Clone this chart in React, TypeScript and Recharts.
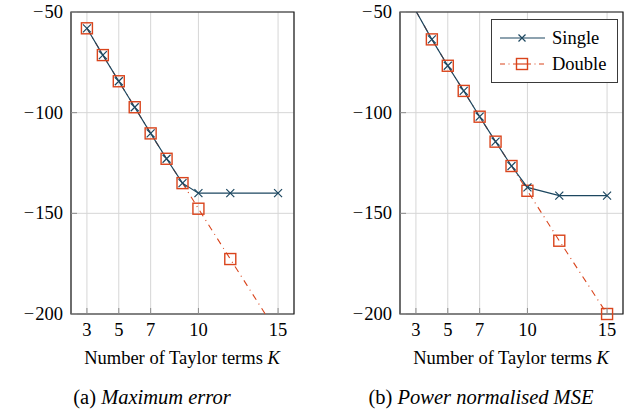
import { LineChart, Line, XAxis, YAxis, CartesianGrid, ReferenceArea, Legend } from 'recharts'

const kValues = [3, 4, 5, 6, 7, 8, 9, 10, 12, 15]
const maxErrSingle = [-58.1, -71.4, -84.4, -97.3, -110.3, -122.9, -135, -140, -140, -140]
const maxErrDouble = [-58.1, -71.4, -84.4, -97.3, -110.3, -122.9, -135, -147.7, -172.7, -210]
const mseSingle = [-49.5, -63.6, -76.7, -89.2, -102, -114.4, -126.5, -137.1, -141.2, -141.2]
const mseDouble = [-49.5, -63.6, -76.7, -89.2, -102, -114.4, -126.5, -138.8, -163.6, -200]
const xTicks = [3, 5, 7, 10, 15]
const yTicks = [-50, -100, -150, -200]
const xDomain = [2, 16]
const yDomain = [-200, -50]

const SINGLE = '#1c4760'
const DOUBLE = '#d9441c'
const DASH = '6.5 4.5 1 4.5'
const FONT = "'Liberation Serif'"
const TICK_FS = 18.5
const TICK_COLOR = '#8c8c8c'

const inRange = (v: number) => v >= yDomain[0] && v <= yDomain[1]

function buildRows(single: number[], double: number[]) {
  return kValues.map((k, i) => ({
    k,
    single: single[i],
    double: double[i],
    singleMark: inRange(single[i]) ? single[i] : null,
    doubleMark: inRange(double[i]) ? double[i] : null,
  }))
}

const maxErrRows = buildRows(maxErrSingle, maxErrDouble)
const mseRows = buildRows(mseSingle, mseDouble)

const CrossDot = (props: any) => {
  const { cx, cy, value } = props
  if (value == null || cx == null || cy == null) return <g key={props.key} />
  return (
    <path
      key={props.key}
      d={`M${cx - 4},${cy - 4}L${cx + 4},${cy + 4}M${cx + 4},${cy - 4}L${cx - 4},${cy + 4}`}
      stroke={SINGLE}
      strokeWidth={1.2}
      fill="none"
    />
  )
}

const SquareDot = (props: any) => {
  const { cx, cy, value } = props
  if (value == null || cx == null || cy == null) return <g key={props.key} />
  return (
    <rect key={props.key} x={cx - 5.5} y={cy - 5.5} width={11} height={11} stroke={DOUBLE} strokeWidth={1.4} fill="none" />
  )
}

const fmt = (v: number) => (v < 0 ? [String.fromCharCode(0x2212), String(-v)] : ['', String(v)])

const XTick = (props: any) => {
  const { x, y, payload, top } = props
  return (
    <g>
      <line x1={x} y1={y} x2={x} y2={top ? y + 6 : y - 6} stroke={TICK_COLOR} strokeWidth={1} />
      {!top && (
        <text x={x} y={y + 22} textAnchor="middle" style={{ fontFamily: FONT }} fontSize={TICK_FS} fill="#000">
          {payload.value}
        </text>
      )}
    </g>
  )
}

const YTick = (props: any) => {
  const { x, y, payload, right } = props
  const [sign, num] = fmt(payload.value)
  return (
    <g>
      <line x1={x} y1={y} x2={right ? x - 6 : x + 6} y2={y} stroke={TICK_COLOR} strokeWidth={1} />
      {!right && (
        <text x={x - 8} y={y + 6} textAnchor="end" style={{ fontFamily: FONT }} fontSize={TICK_FS} fill="#000">
          <tspan>{sign}</tspan>
          <tspan dx={1}>{num}</tspan>
        </text>
      )}
    </g>
  )
}

const LegendBox = () => (
  <div
    style={{
      border: '1px solid #3a3a3a',
      background: '#fff',
      padding: '5px 0 5px 8px',
      fontFamily: FONT,
      fontSize: TICK_FS,
      lineHeight: '26px',
    }}
  >
    <div style={{ display: 'flex', alignItems: 'center' }}>
      <svg width={50} height={20}>
        <line x1={0} y1={10} x2={45} y2={10} stroke={SINGLE} strokeWidth={1.2} />
        <path d="M18.5,6.5L25.5,13.5M25.5,6.5L18.5,13.5" stroke={SINGLE} strokeWidth={1.2} />
      </svg>
      <span style={{ marginLeft: 2 }}>Single</span>
    </div>
    <div style={{ display: 'flex', alignItems: 'center' }}>
      <svg width={50} height={20}>
        <line x1={0} y1={10} x2={45} y2={10} stroke={DOUBLE} strokeWidth={1.2} strokeDasharray="5 3.5 1 3.5" />
        <rect x={16.5} y={4.5} width={11} height={11} stroke={DOUBLE} strokeWidth={1.4} fill="#fff" />
        <line x1={16.5} y1={10} x2={27.5} y2={10} stroke={DOUBLE} strokeWidth={1.2} />
      </svg>
      <span style={{ marginLeft: 2 }}>Double</span>
    </div>
  </div>
)

type PanelProps = {
  rows: ReturnType<typeof buildRows>
  showLegend?: boolean
}

function Panel({ rows, showLegend }: PanelProps) {
  return (
    <LineChart width={300} height={340} data={rows} margin={{ top: 12, right: 6, bottom: 0, left: 0 }}>
      <CartesianGrid stroke="#d6d6d6" strokeWidth={1} />
      <XAxis
        dataKey="k"
        type="number"
        domain={xDomain}
        ticks={xTicks}
        interval={0}
        height={26}
        tickSize={0}
        tickMargin={0}
        tickLine={false}
        axisLine={false}
        tick={<XTick />}
      />
      <XAxis
        xAxisId="top"
        orientation="top"
        dataKey="k"
        type="number"
        domain={xDomain}
        ticks={xTicks}
        interval={0}
        height={0}
        tickSize={0}
        tickMargin={0}
        tickLine={false}
        axisLine={false}
        tick={(p: any) => <XTick {...p} top />}
      />
      <YAxis
        type="number"
        domain={yDomain}
        ticks={yTicks}
        interval={0}
        allowDataOverflow
        width={71}
        tickSize={0}
        tickMargin={0}
        tickLine={false}
        axisLine={false}
        tick={<YTick />}
      />
      <YAxis
        yAxisId="right"
        orientation="right"
        type="number"
        domain={yDomain}
        ticks={yTicks}
        interval={0}
        allowDataOverflow
        width={0}
        tickSize={0}
        tickMargin={0}
        tickLine={false}
        axisLine={false}
        tick={(p: any) => <YTick {...p} right />}
      />
      <YAxis yAxisId="m" hide type="number" domain={yDomain} />
      <Line
        dataKey="double"
        stroke={DOUBLE}
        strokeWidth={1.1}
        strokeDasharray={DASH}
        dot={false}
        activeDot={false}
        legendType="none"
        isAnimationActive={false}
      />
      <Line
        dataKey="single"
        stroke={SINGLE}
        strokeWidth={1.2}
        dot={false}
        activeDot={false}
        legendType="none"
        isAnimationActive={false}
      />
      <Line
        yAxisId="m"
        dataKey="doubleMark"
        stroke="none"
        dot={SquareDot}
        activeDot={false}
        legendType="none"
        isAnimationActive={false}
      />
      <Line
        yAxisId="m"
        dataKey="singleMark"
        stroke="none"
        dot={CrossDot}
        activeDot={false}
        legendType="none"
        isAnimationActive={false}
      />
      <ReferenceArea x1={xDomain[0]} x2={xDomain[1]} y1={yDomain[0]} y2={yDomain[1]} fill="none" stroke="#1a1a1a" strokeWidth={1.2} />
      {showLegend && (
        <Legend
          layout="vertical"
          align="center"
          verticalAlign="middle"
          content={<LegendBox />}
          wrapperStyle={{ left: 162, top: 19, width: 127 }}
        />
      )}
    </LineChart>
  )
}

const labelStyle: React.CSSProperties = {
  position: 'absolute',
  width: 300,
  textAlign: 'center',
  fontFamily: FONT,
  whiteSpace: 'nowrap',
}

export default function App() {
  return (
    <div style={{ position: 'absolute', left: 0, top: 0, width: 635, height: 412, background: '#fff', fontFamily: FONT }}>
      <div style={{ position: 'absolute', left: 0, top: 0 }}>
        <Panel rows={maxErrRows} />
      </div>
      <div style={{ position: 'absolute', left: 329, top: 0 }}>
        <Panel rows={mseRows} showLegend />
      </div>
      <div style={{ ...labelStyle, left: 32, top: 348, fontSize: TICK_FS }}>
        Number of Taylor terms <i>K</i>
      </div>
      <div style={{ ...labelStyle, left: 361, top: 348, fontSize: TICK_FS }}>
        Number of Taylor terms <i>K</i>
      </div>
      <div style={{ ...labelStyle, left: 2, top: 386, fontSize: 20.5 }}>
        (a) <i>Maximum error</i>
      </div>
      <div style={{ ...labelStyle, left: 331, top: 386, fontSize: 20.5 }}>
        (b) <i>Power normalised MSE</i>
      </div>
    </div>
  )
}
